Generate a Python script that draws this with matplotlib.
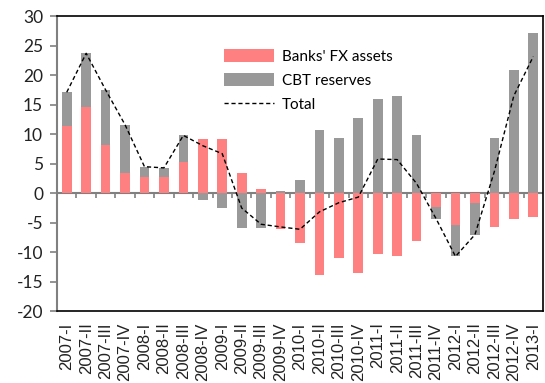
import numpy as np
import matplotlib.pyplot as plt

quarters = ["2007-I", "2007-II", "2007-III", "2007-IV",
            "2008-I", "2008-II", "2008-III", "2008-IV",
            "2009-I", "2009-II", "2009-III", "2009-IV",
            "2010-I", "2010-II", "2010-III", "2010-IV",
            "2011-I", "2011-II", "2011-III", "2011-IV",
            "2012-I", "2012-II", "2012-III", "2012-IV",
            "2013-I"]

banks_fx = [11.4, 14.6, 8.25, 3.4, 2.75, 2.7, 5.3, 9.15,
            9.15, 3.4, 0.65, -6.1, -8.4, -13.9, -11.0, -13.45,
            -10.2, -10.7, -8.15, -2.35, -5.45, -1.7, -5.7, -4.3,
            -4.05]
cbt_reserves = [5.7, 9.1, 9.25, 8.2, 1.75, 1.6, 4.5, -1.1,
                -2.45, -5.9, -5.9, 0.4, 2.3, 10.75, 9.4, 12.8,
                16.0, 16.4, 9.8, -1.95, -5.25, -5.3, 9.4, 20.8,
                27.2]

banks = np.array(banks_fx)
cbt = np.array(cbt_reserves)
total = banks + cbt
x = np.arange(len(quarters))

pink = "#ff8080"
grey = "#999999"

plt.rcParams["axes.unicode_minus"] = False

fig = plt.figure(figsize=(5.45, 3.83), dpi=100)
ax = fig.add_axes([0.1046, 0.187, 0.8917, 0.771])

# stack CBT on top of banks only when both have the same sign
cbt_bottom = np.where(np.sign(banks) == np.sign(cbt), banks, 0)
b1 = ax.bar(x, banks, width=0.5, color=pink, label="Banks' FX assets", zorder=2)
b2 = ax.bar(x, cbt, width=0.5, bottom=cbt_bottom, color=grey,
            label="CBT reserves", zorder=2)
l1, = ax.plot(x, total, color="black", lw=1, linestyle=(0, (3, 2)),
              label="Total", zorder=3)

# zero line with category separators
ax.axhline(0, color="#808080", lw=1.5, zorder=1)
ax.vlines(x[:-1] + 0.5, -0.85, 0, color="#808080", lw=1.2, zorder=1)

ax.set_xlim(-0.5, len(quarters) - 0.5)
ax.set_ylim(-20, 30)
ax.set_yticks(np.arange(-20, 31, 5))
ax.set_xticks(x)
ax.set_xticklabels(quarters, rotation=90, fontsize=12,
                   family="Liberation Sans", color="#222222")
ax.tick_params(axis="x", length=0, pad=8)
ax.tick_params(axis="y", direction="out", length=5, color="#808080",
               width=1.2, labelsize=12.5, pad=5, labelcolor="#222222")
for lbl in ax.get_yticklabels():
    lbl.set_family("Lato")

for side in ["top", "right", "bottom"]:
    ax.spines[side].set_color("black")
    ax.spines[side].set_linewidth(1.2)
ax.spines["left"].set_color("#808080")
ax.spines["left"].set_linewidth(1.5)

ax.legend([b1, b2, l1], ["Banks' FX assets", "CBT reserves", "Total"],
          loc="upper left", bbox_to_anchor=(0.315, 0.935), frameon=False,
          prop={"family": "Lato", "size": 11}, handlelength=3.3,
          handleheight=0.9, labelspacing=0.62, handletextpad=0.5)

fig.savefig("out.png", dpi=100)
